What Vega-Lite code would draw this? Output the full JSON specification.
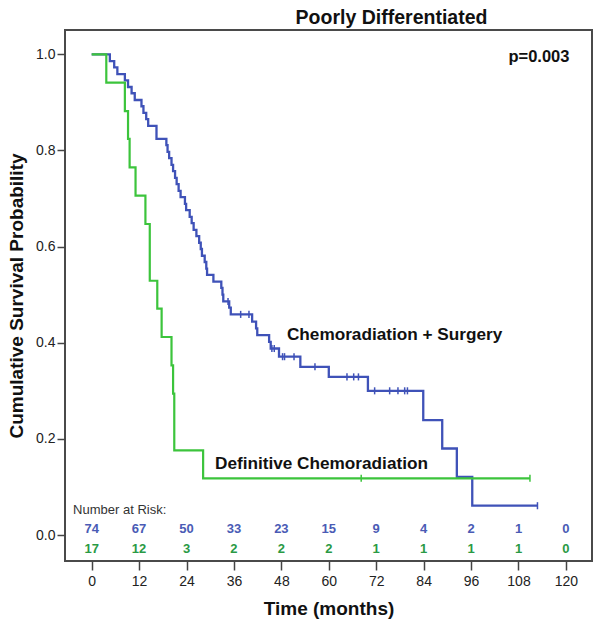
{
  "$schema": "https://vega.github.io/schema/vega-lite/v6.json",
  "width": 527,
  "height": 531,
  "autosize": {"type": "none"},
  "padding": {"left": 65, "top": 30, "right": 11, "bottom": 66},
  "background": "white",
  "config": {
    "font": "Liberation Sans",
    "view": {"stroke": "#4a4a4a", "strokeWidth": 2},
    "axis": {"grid": false, "domain": false, "labelFont": "Liberation Sans", "titleFont": "Liberation Sans", "labelColor": "#222", "tickColor": "#444", "tickWidth": 1.5, "titleColor": "#111", "titleFontWeight": "bold", "titleFontSize": 19, "labelFontSize": 14}
  },
  "title": {"text": "Poorly Differentiated", "fontSize": 19.5, "fontWeight": "bold", "font": "Liberation Sans", "color": "#111", "anchor": "middle", "dx": 63, "offset": -13, "baseline": "alphabetic", "frame": "group"},
  "datasets": {
    "km": [
      {"group": "Chemoradiation + Surgery", "time": 0, "surv": 1.0},
      {"group": "Chemoradiation + Surgery", "time": 4.6, "surv": 0.986},
      {"group": "Chemoradiation + Surgery", "time": 5.7, "surv": 0.973},
      {"group": "Chemoradiation + Surgery", "time": 6.5, "surv": 0.959},
      {"group": "Chemoradiation + Surgery", "time": 8.4, "surv": 0.946},
      {"group": "Chemoradiation + Surgery", "time": 9.2, "surv": 0.932},
      {"group": "Chemoradiation + Surgery", "time": 10.1, "surv": 0.919},
      {"group": "Chemoradiation + Surgery", "time": 10.9, "surv": 0.905},
      {"group": "Chemoradiation + Surgery", "time": 12.6, "surv": 0.892},
      {"group": "Chemoradiation + Surgery", "time": 13.1, "surv": 0.878},
      {"group": "Chemoradiation + Surgery", "time": 13.8, "surv": 0.865},
      {"group": "Chemoradiation + Surgery", "time": 14.3, "surv": 0.851},
      {"group": "Chemoradiation + Surgery", "time": 16.4, "surv": 0.824},
      {"group": "Chemoradiation + Surgery", "time": 18.9, "surv": 0.811},
      {"group": "Chemoradiation + Surgery", "time": 19.2, "surv": 0.797},
      {"group": "Chemoradiation + Surgery", "time": 19.6, "surv": 0.784},
      {"group": "Chemoradiation + Surgery", "time": 20.2, "surv": 0.770},
      {"group": "Chemoradiation + Surgery", "time": 20.6, "surv": 0.757},
      {"group": "Chemoradiation + Surgery", "time": 21.1, "surv": 0.743},
      {"group": "Chemoradiation + Surgery", "time": 21.5, "surv": 0.730},
      {"group": "Chemoradiation + Surgery", "time": 22.0, "surv": 0.716},
      {"group": "Chemoradiation + Surgery", "time": 22.5, "surv": 0.703},
      {"group": "Chemoradiation + Surgery", "time": 23.6, "surv": 0.689},
      {"group": "Chemoradiation + Surgery", "time": 23.9, "surv": 0.676},
      {"group": "Chemoradiation + Surgery", "time": 24.8, "surv": 0.662},
      {"group": "Chemoradiation + Surgery", "time": 25.3, "surv": 0.649},
      {"group": "Chemoradiation + Surgery", "time": 25.8, "surv": 0.635},
      {"group": "Chemoradiation + Surgery", "time": 26.5, "surv": 0.622},
      {"group": "Chemoradiation + Surgery", "time": 27.2, "surv": 0.608},
      {"group": "Chemoradiation + Surgery", "time": 27.6, "surv": 0.595},
      {"group": "Chemoradiation + Surgery", "time": 27.9, "surv": 0.581},
      {"group": "Chemoradiation + Surgery", "time": 28.6, "surv": 0.568},
      {"group": "Chemoradiation + Surgery", "time": 29.0, "surv": 0.554},
      {"group": "Chemoradiation + Surgery", "time": 29.2, "surv": 0.541},
      {"group": "Chemoradiation + Surgery", "time": 30.8, "surv": 0.527},
      {"group": "Chemoradiation + Surgery", "time": 32.8, "surv": 0.514},
      {"group": "Chemoradiation + Surgery", "time": 33.1, "surv": 0.500},
      {"group": "Chemoradiation + Surgery", "time": 33.3, "surv": 0.486},
      {"group": "Chemoradiation + Surgery", "time": 34.8, "surv": 0.473},
      {"group": "Chemoradiation + Surgery", "time": 35.2, "surv": 0.459},
      {"group": "Chemoradiation + Surgery", "time": 40.6, "surv": 0.444},
      {"group": "Chemoradiation + Surgery", "time": 41.6, "surv": 0.430},
      {"group": "Chemoradiation + Surgery", "time": 41.9, "surv": 0.416},
      {"group": "Chemoradiation + Surgery", "time": 44.9, "surv": 0.402},
      {"group": "Chemoradiation + Surgery", "time": 45.3, "surv": 0.388},
      {"group": "Chemoradiation + Surgery", "time": 47.4, "surv": 0.371},
      {"group": "Chemoradiation + Surgery", "time": 52.8, "surv": 0.350},
      {"group": "Chemoradiation + Surgery", "time": 60.0, "surv": 0.329},
      {"group": "Chemoradiation + Surgery", "time": 69.9, "surv": 0.300},
      {"group": "Chemoradiation + Surgery", "time": 83.9, "surv": 0.239},
      {"group": "Chemoradiation + Surgery", "time": 88.7, "surv": 0.180},
      {"group": "Chemoradiation + Surgery", "time": 92.4, "surv": 0.121},
      {"group": "Chemoradiation + Surgery", "time": 96.3, "surv": 0.061},
      {"group": "Chemoradiation + Surgery", "time": 112.8, "surv": 0.061},
      {"group": "Definitive Chemoradiation", "time": 0, "surv": 1.0},
      {"group": "Definitive Chemoradiation", "time": 3.7, "surv": 0.941},
      {"group": "Definitive Chemoradiation", "time": 8.4, "surv": 0.882},
      {"group": "Definitive Chemoradiation", "time": 9.2, "surv": 0.824},
      {"group": "Definitive Chemoradiation", "time": 9.6, "surv": 0.765},
      {"group": "Definitive Chemoradiation", "time": 11.1, "surv": 0.706},
      {"group": "Definitive Chemoradiation", "time": 13.6, "surv": 0.647},
      {"group": "Definitive Chemoradiation", "time": 14.7, "surv": 0.529},
      {"group": "Definitive Chemoradiation", "time": 16.6, "surv": 0.471},
      {"group": "Definitive Chemoradiation", "time": 17.7, "surv": 0.412},
      {"group": "Definitive Chemoradiation", "time": 20.2, "surv": 0.353},
      {"group": "Definitive Chemoradiation", "time": 20.6, "surv": 0.294},
      {"group": "Definitive Chemoradiation", "time": 20.9, "surv": 0.176},
      {"group": "Definitive Chemoradiation", "time": 28.2, "surv": 0.118},
      {"group": "Definitive Chemoradiation", "time": 110.9, "surv": 0.118}
    ],
    "censor": [
      {"group": "Chemoradiation + Surgery", "time": 34.5, "surv": 0.486},
      {"group": "Chemoradiation + Surgery", "time": 37.7, "surv": 0.459},
      {"group": "Chemoradiation + Surgery", "time": 39.8, "surv": 0.459},
      {"group": "Chemoradiation + Surgery", "time": 45.6, "surv": 0.388},
      {"group": "Chemoradiation + Surgery", "time": 46.2, "surv": 0.388},
      {"group": "Chemoradiation + Surgery", "time": 48.3, "surv": 0.371},
      {"group": "Chemoradiation + Surgery", "time": 48.8, "surv": 0.371},
      {"group": "Chemoradiation + Surgery", "time": 51.2, "surv": 0.371},
      {"group": "Chemoradiation + Surgery", "time": 56.5, "surv": 0.350},
      {"group": "Chemoradiation + Surgery", "time": 64.6, "surv": 0.329},
      {"group": "Chemoradiation + Surgery", "time": 66.3, "surv": 0.329},
      {"group": "Chemoradiation + Surgery", "time": 67.5, "surv": 0.329},
      {"group": "Chemoradiation + Surgery", "time": 71.6, "surv": 0.300},
      {"group": "Chemoradiation + Surgery", "time": 75.4, "surv": 0.300},
      {"group": "Chemoradiation + Surgery", "time": 77.5, "surv": 0.300},
      {"group": "Chemoradiation + Surgery", "time": 79.2, "surv": 0.300},
      {"group": "Chemoradiation + Surgery", "time": 79.9, "surv": 0.300},
      {"group": "Chemoradiation + Surgery", "time": 112.8, "surv": 0.061},
      {"group": "Definitive Chemoradiation", "time": 68.2, "surv": 0.118},
      {"group": "Definitive Chemoradiation", "time": 110.9, "surv": 0.118}
    ],
    "risk": [
      {"group": "Chemoradiation + Surgery", "time": 0, "n": 74},
      {"group": "Chemoradiation + Surgery", "time": 12, "n": 67},
      {"group": "Chemoradiation + Surgery", "time": 24, "n": 50},
      {"group": "Chemoradiation + Surgery", "time": 36, "n": 33},
      {"group": "Chemoradiation + Surgery", "time": 48, "n": 23},
      {"group": "Chemoradiation + Surgery", "time": 60, "n": 15},
      {"group": "Chemoradiation + Surgery", "time": 72, "n": 9},
      {"group": "Chemoradiation + Surgery", "time": 84, "n": 4},
      {"group": "Chemoradiation + Surgery", "time": 96, "n": 2},
      {"group": "Chemoradiation + Surgery", "time": 108, "n": 1},
      {"group": "Chemoradiation + Surgery", "time": 120, "n": 0},
      {"group": "Definitive Chemoradiation", "time": 0, "n": 17},
      {"group": "Definitive Chemoradiation", "time": 12, "n": 12},
      {"group": "Definitive Chemoradiation", "time": 24, "n": 3},
      {"group": "Definitive Chemoradiation", "time": 36, "n": 2},
      {"group": "Definitive Chemoradiation", "time": 48, "n": 2},
      {"group": "Definitive Chemoradiation", "time": 60, "n": 2},
      {"group": "Definitive Chemoradiation", "time": 72, "n": 1},
      {"group": "Definitive Chemoradiation", "time": 84, "n": 1},
      {"group": "Definitive Chemoradiation", "time": 96, "n": 1},
      {"group": "Definitive Chemoradiation", "time": 108, "n": 1},
      {"group": "Definitive Chemoradiation", "time": 120, "n": 0}
    ]
  },
  "encoding": {
    "x": {"type": "quantitative", "scale": {"domain": [-6.75, 126.6], "nice": false, "zero": false},
      "axis": {"values": [0, 12, 24, 36, 48, 60, 72, 84, 96, 108, 120], "title": "Time (months)", "tickSize": 9, "labelPadding": 4, "titlePadding": 11, "labelFlush": false}},
    "y": {"type": "quantitative", "scale": {"domain": [-0.054, 1.0506], "nice": false, "zero": false},
      "axis": {"values": [0, 0.2, 0.4, 0.6, 0.8, 1.0], "format": ".1f", "title": "Cumulative Survival Probability", "tickSize": 8, "labelPadding": 2, "titlePadding": 9, "labelFlush": false}}
  },
  "layer": [
    {
      "data": {"name": "km"},
      "transform": [{"filter": "datum.group === 'Chemoradiation + Surgery'"}],
      "mark": {"type": "line", "interpolate": "step-after", "strokeWidth": 2.3, "color": "#3f52b8"},
      "encoding": {"x": {"field": "time"}, "y": {"field": "surv"}}
    },
    {
      "data": {"name": "censor"},
      "transform": [{"filter": "datum.group === 'Chemoradiation + Surgery'"}],
      "mark": {"type": "point", "shape": "M0,-1L0,1", "size": 50, "filled": false, "strokeWidth": 1.5, "color": "#3f52b8", "opacity": 1},
      "encoding": {"x": {"field": "time"}, "y": {"field": "surv"}}
    },
    {
      "data": {"name": "km"},
      "transform": [{"filter": "datum.group === 'Definitive Chemoradiation'"}],
      "mark": {"type": "line", "interpolate": "step-after", "strokeWidth": 2.2, "color": "#3cc43c"},
      "encoding": {"x": {"field": "time"}, "y": {"field": "surv"}}
    },
    {
      "data": {"name": "censor"},
      "transform": [{"filter": "datum.group === 'Definitive Chemoradiation'"}],
      "mark": {"type": "point", "shape": "M0,-1L0,1", "size": 50, "filled": false, "strokeWidth": 1.5, "color": "#3cc43c", "opacity": 1},
      "encoding": {"x": {"field": "time"}, "y": {"field": "surv"}}
    },
    {
      "data": {"name": "risk"},
      "transform": [{"filter": "datum.group === 'Chemoradiation + Surgery'"}],
      "mark": {"type": "text", "fontSize": 13, "fontWeight": "bold", "color": "#4a5bb5", "baseline": "middle", "align": "center"},
      "encoding": {"x": {"field": "time"}, "y": {"datum": 0.012}, "text": {"field": "n"}}
    },
    {
      "data": {"name": "risk"},
      "transform": [{"filter": "datum.group === 'Definitive Chemoradiation'"}],
      "mark": {"type": "text", "fontSize": 13, "fontWeight": "bold", "color": "#2a9a45", "baseline": "middle", "align": "center"},
      "encoding": {"x": {"field": "time"}, "y": {"datum": -0.030}, "text": {"field": "n"}}
    },
    {
      "data": {"values": [{"label": "Number at Risk:"}]},
      "mark": {"type": "text", "fontSize": 13, "color": "#333", "baseline": "middle", "align": "left"},
      "encoding": {"x": {"datum": -4.7}, "y": {"datum": 0.053}, "text": {"field": "label"}}
    },
    {
      "data": {"values": [{"label": "Chemoradiation + Surgery"}]},
      "mark": {"type": "text", "fontSize": 17.2, "fontWeight": "bold", "color": "#111", "baseline": "middle", "align": "left"},
      "encoding": {"x": {"datum": 49.4}, "y": {"datum": 0.416}, "text": {"field": "label"}}
    },
    {
      "data": {"values": [{"label": "Definitive Chemoradiation"}]},
      "mark": {"type": "text", "fontSize": 17.2, "fontWeight": "bold", "color": "#111", "baseline": "middle", "align": "left"},
      "encoding": {"x": {"datum": 31.2}, "y": {"datum": 0.147}, "text": {"field": "label"}}
    },
    {
      "data": {"values": [{"label": "p=0.003"}]},
      "mark": {"type": "text", "fontSize": 16.5, "fontWeight": "bold", "color": "#111", "baseline": "middle", "align": "right"},
      "encoding": {"x": {"datum": 120.9}, "y": {"datum": 0.994}, "text": {"field": "label"}}
    }
  ]
}
